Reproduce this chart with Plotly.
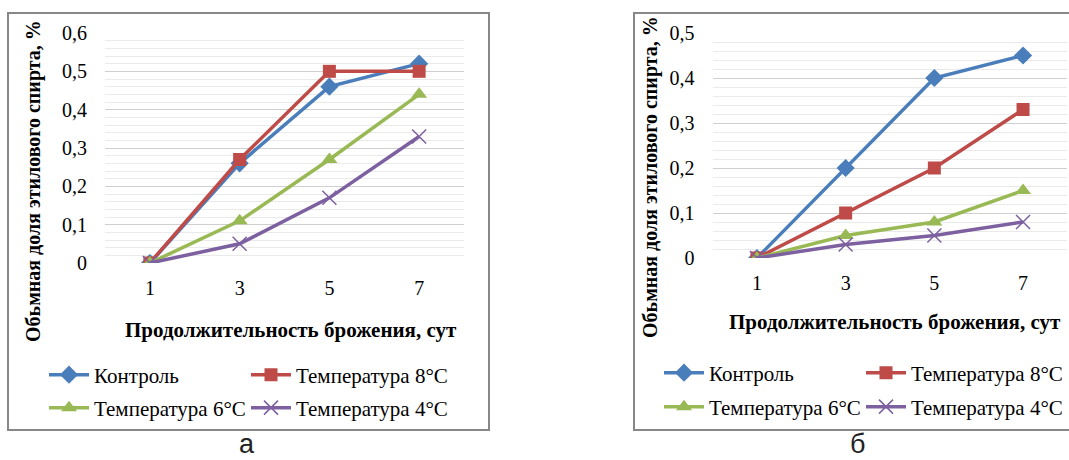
import plotly.graph_objects as go

W, H = 1069, 460

days = ["1", "3", "5", "7"]
series_names = ["Контроль", "Температура 8°C", "Температура 6°C", "Температура 4°C"]

# chart а
a_control = [0, 0.26, 0.46, 0.52]
a_t8 = [0, 0.27, 0.50, 0.50]
a_t6 = [0, 0.11, 0.27, 0.44]
a_t4 = [0, 0.05, 0.17, 0.33]

# chart б
b_control = [0, 0.20, 0.40, 0.45]
b_t8 = [0, 0.10, 0.20, 0.33]
b_t6 = [0, 0.05, 0.08, 0.15]
b_t4 = [0, 0.03, 0.05, 0.08]

x_title = "Продолжительность брожения, сут"
y_title = "Обьмная доля этилового спирта, %"
captions = ["а", "б"]

colors = ["#4A7EBB", "#BE4B48", "#98B954", "#7D60A0"]
symbols = ["diamond", "square", "triangle-up", "x-thin"]
msizes = [14, 13, 14, 14]

SERIF = "Liberation Serif"

def px(x):
    return x / W

def py(y):
    return (H - y) / H

fig = go.Figure()

def add_series(vals_list, xa, ya, legends):
    for i, vals in enumerate(vals_list):
        marker = dict(symbol=symbols[i], size=msizes[i], color=colors[i])
        if symbols[i] == "x-thin":
            marker["line"] = dict(width=1.5, color=colors[i])
        fig.add_trace(go.Scatter(
            x=days, y=vals, mode="lines+markers", name=series_names[i],
            line=dict(color=colors[i], width=3.5),
            marker=marker, xaxis=xa, yaxis=ya,
            legend=legends[i], showlegend=True,
        ))

add_series([a_control, a_t8, a_t6, a_t4], "x", "y", ["legend", "legend", "legend2", "legend2"])
add_series([b_control, b_t8, b_t6, b_t4], "x2", "y2", ["legend3", "legend3", "legend4", "legend4"])

axis_x_common = dict(
    type="category", range=[-0.5, 3.5], showgrid=False, zeroline=False,
    showline=False, ticks="", ticklabelstandoff=11,
    tickfont=dict(family=SERIF, size=20, color="#000"),
)

def yaxis_common(maxv):
    return dict(
        range=[0, maxv], dtick=0.1, tick0=0, showgrid=True, gridcolor="#D0D0D0",
        gridwidth=1, zeroline=False, showline=False, ticks="",
        ticklabelstandoff=17,
        tickfont=dict(family=SERIF, size=20, color="#000"),
        minor=dict(dtick=0.02, tick0=0, showgrid=True, gridcolor="#EAEAEA", gridwidth=1),
    )

legend_common = dict(
    orientation="h", xanchor="left", yanchor="middle",
    font=dict(family=SERIF, size=21, color="#000"),
    bgcolor="rgba(0,0,0,0)", borderwidth=0,
    entrywidth=147, entrywidthmode="pixels", itemwidth=40,
    tracegroupgap=0,
)

fig.update_layout(
    width=W, height=H,
    margin=dict(l=0, r=0, t=0, b=0, autoexpand=False),
    paper_bgcolor="white", plot_bgcolor="white",
    separators=", ",
    xaxis=dict(domain=[px(105), px(464)], anchor="y", **axis_x_common),
    yaxis=dict(domain=[py(263), py(33)], anchor="x", **yaxis_common(0.6)),
    xaxis2=dict(domain=[px(712.6), px(1067.4)], anchor="y2", **axis_x_common),
    yaxis2=dict(domain=[py(258), py(33)], anchor="x2", **yaxis_common(0.5)),
    legend=dict(x=px(44), y=py(375), **legend_common),
    legend2=dict(x=px(44), y=py(408), **legend_common),
    legend3=dict(x=px(659), y=py(373), **legend_common),
    legend4=dict(x=px(659), y=py(407), **legend_common),
    showlegend=True,
)

# chart frames
fig.add_shape(type="rect", xref="paper", yref="paper",
              x0=px(8), x1=px(489), y0=py(430), y1=py(13),
              line=dict(color="#878787", width=2), fillcolor="rgba(0,0,0,0)", layer="below")
fig.add_shape(type="rect", xref="paper", yref="paper",
              x0=px(634), x1=1.01, y0=py(430), y1=py(13),
              line=dict(color="#878787", width=2), fillcolor="rgba(0,0,0,0)", layer="below")

# titles
for cx, cy in [(291, 330), (895, 322)]:
    fig.add_annotation(text="<b>" + x_title + "</b>", x=px(cx), y=py(cy), xref="paper", yref="paper",
                       showarrow=False, xanchor="center", yanchor="middle",
                       font=dict(family=SERIF, size=21, color="#000"))
for cx, cy in [(34, 181), (650, 177)]:
    fig.add_annotation(text="<b>" + y_title + "</b>", x=px(cx), y=py(cy), xref="paper", yref="paper",
                       showarrow=False, xanchor="center", yanchor="middle", textangle=-90,
                       font=dict(family=SERIF, size=20, color="#000"))
for cap, cx in zip(captions, [247, 857]):
    fig.add_annotation(text=cap, x=px(cx), y=py(444), xref="paper", yref="paper",
                       showarrow=False, xanchor="center", yanchor="middle",
                       font=dict(family="Liberation Sans", size=27, color="#222"))

fig.write_html("out.html", post_script="document.body.style.margin='0';",
               config={"displayModeBar": False})
